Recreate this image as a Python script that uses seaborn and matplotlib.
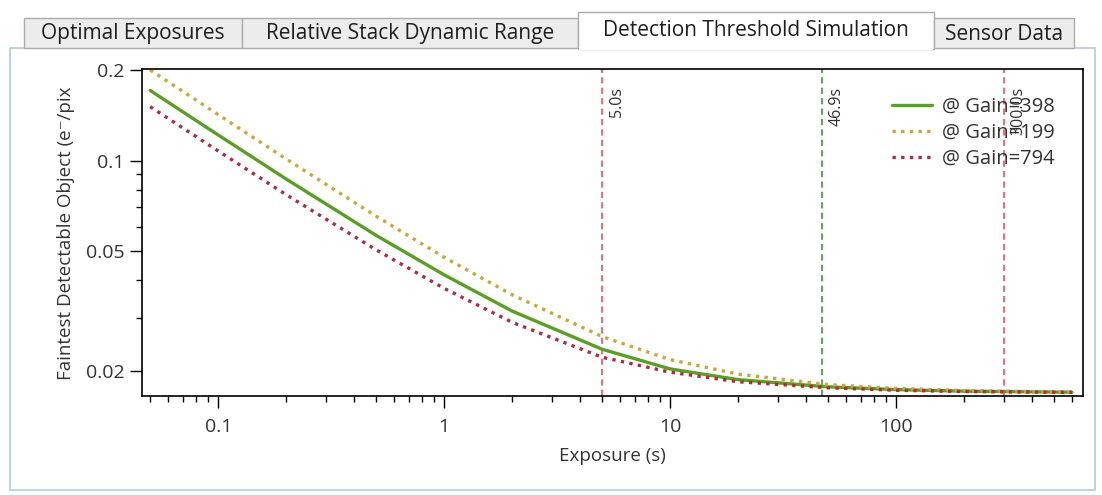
import matplotlib
matplotlib.use("Agg")
import matplotlib.pyplot as plt
import seaborn as sns
from matplotlib.patches import Rectangle
from matplotlib.ticker import NullFormatter
from matplotlib.transforms import Bbox, TransformedBbox

# ---- data ----
exposure = [0.05, 0.1, 0.2, 0.5, 1, 2, 5, 10, 20, 50, 100, 200, 600]
gain_398 = [0.171, 0.1216, 0.0868, 0.0564, 0.0417, 0.0316, 0.0236, 0.0203, 0.0187, 0.01770, 0.01733, 0.01712, 0.01698]
gain_199 = [0.200, 0.1421, 0.1012, 0.0653, 0.0477, 0.0358, 0.0260, 0.0218, 0.0195, 0.01800, 0.01749, 0.01720, 0.01700]
gain_794 = [0.151, 0.1076, 0.0770, 0.0505, 0.0376, 0.0290, 0.0222, 0.0198, 0.0184, 0.01757, 0.01724, 0.01708, 0.01697]
series_labels = ["@ Gain=398", "@ Gain=199", "@ Gain=794"]
series_colors = ["#5b9e26", "#c9a73a", "#b3283e"]

marker_times = [5.0, 46.9, 300.0]
marker_labels = ["5.0s", "46.9s", "300.0s"]
marker_colors = ["#e8707e", "#62a562", "#e8707e"]

x_ticks = [0.1, 1, 10, 100]
x_tick_labels = ["0.1", "1", "10", "100"]
y_ticks = [0.02, 0.05, 0.1, 0.2]
y_tick_labels = ["0.02", "0.05", "0.1", "0.2"]

tab_names = ["Optimal Exposures", "Relative Stack Dynamic Range",
             "Detection Threshold Simulation", "Sensor Data"]
tab_edges = [24, 242, 578, 934, 1074]
selected_tab = 2

W, H = 1102, 495

sns.set_theme(style="ticks")
plt.rcParams["font.family"] = ["Open Sans", "DejaVu Sans"]

fig = plt.figure(figsize=(W / 100, H / 100), dpi=100)
fig.patch.set_facecolor("white")


def box(x0, y0, x1, y1):
    # pixel box (top-left origin) -> figure fraction rect
    return (x0 / W, 1 - y1 / H), (x1 - x0) / W, (y1 - y0) / H


# ---- window chrome: panel + tabs ----
xy, w, h = box(10, 48, 1095, 490)
fig.add_artist(Rectangle(xy, w, h, transform=fig.transFigure,
                         facecolor="white", edgecolor="#b4c8dc", lw=1.2, zorder=0))
for i, name in enumerate(tab_names):
    x0, x1 = tab_edges[i], tab_edges[i + 1]
    top = 12 if i == selected_tab else 18
    bottom = 49 if i == selected_tab else 48
    xy, w, h = box(x0, top, x1, bottom)
    fc = "white" if i == selected_tab else "#ececec"
    fig.add_artist(Rectangle(xy, w, h, transform=fig.transFigure,
                             facecolor=fc, edgecolor="#acacac", lw=1.0, zorder=1))
    if i == selected_tab:
        xy, w, h = box(x0 + 1, 46, x1 - 1, 50)
        fig.add_artist(Rectangle(xy, w, h, transform=fig.transFigure,
                                 facecolor="white", edgecolor="none", zorder=2))
    cy = (top + 48) / 2 + 1
    fig.text((x0 + x1) / 2 / W, 1 - cy / H, name, ha="center", va="center",
             fontsize=15, color="#1e1e1e", zorder=3)

# ---- chart ----
ax = fig.add_axes([142 / W, 1 - 396 / H, (1083 - 142) / W, (396 - 69) / H])
ax.set_facecolor("white")

styles = ["-", (0, (1, 1.6)), (0, (1, 1.6))]
for vals, lab, col, ls in zip([gain_398, gain_199, gain_794], series_labels, series_colors, styles):
    sns.lineplot(x=exposure, y=vals, ax=ax, color=col, linestyle=ls, linewidth=2.4,
                 label=lab, sort=False)

ax.set_xscale("log")
ax.set_yscale("log")
ax.set_xlim(0.046, 672)
ax.set_ylim(0.0165, 0.2015)

for t, lab, col in zip(marker_times, marker_labels, marker_colors):
    ax.axvline(t, color=col, linestyle=(0, (3, 2)), linewidth=1.5, zorder=1)
    ax.annotate(lab, xy=(t, 1), xycoords=("data", "axes fraction"),
                xytext=(5, -13), textcoords="offset points", rotation=90,
                ha="left", va="top", fontsize=11.5, color="#333333")

ax.set_xticks(x_ticks, x_tick_labels)
ax.set_yticks(y_ticks, y_tick_labels)
ax.xaxis.set_minor_formatter(NullFormatter())
ax.yaxis.set_minor_formatter(NullFormatter())
ax.tick_params(which="major", direction="out", length=8.5, width=1, colors="black",
               labelsize=14, labelcolor="#333333")
ax.tick_params(axis="x", which="major", pad=7)
ax.tick_params(axis="y", which="major", pad=4)
ax.tick_params(which="minor", direction="out", length=4.5, width=1, colors="black")
for s in ax.spines.values():
    s.set_visible(True)
    s.set_color("black")
    s.set_linewidth(1.2)

ax.set_xlabel("Exposure (s)", fontsize=13.5, color="#333333", labelpad=8)

# y label is cut off at the top in the reference
ylab = fig.text(66 / W, 1 - 380 / H, "Faintest Detectable Object (e\u207b/pixel)",
                rotation=90, ha="center", va="bottom", fontsize=13.5, color="#333333")
ylab.set_clip_box(TransformedBbox(Bbox.from_extents(0, 0, 1, 1 - 87 / H), fig.transFigure))
ylab.set_clip_on(True)

leg = ax.legend(loc="upper right", bbox_to_anchor=(0.97, 0.915), frameon=False,
                fontsize=14.5, handlelength=2.0, handletextpad=0.5, labelspacing=0.3,
                borderpad=0, borderaxespad=0)
for t in leg.get_texts():
    t.set_color("#333333")

fig.savefig("out.png", dpi=100)
